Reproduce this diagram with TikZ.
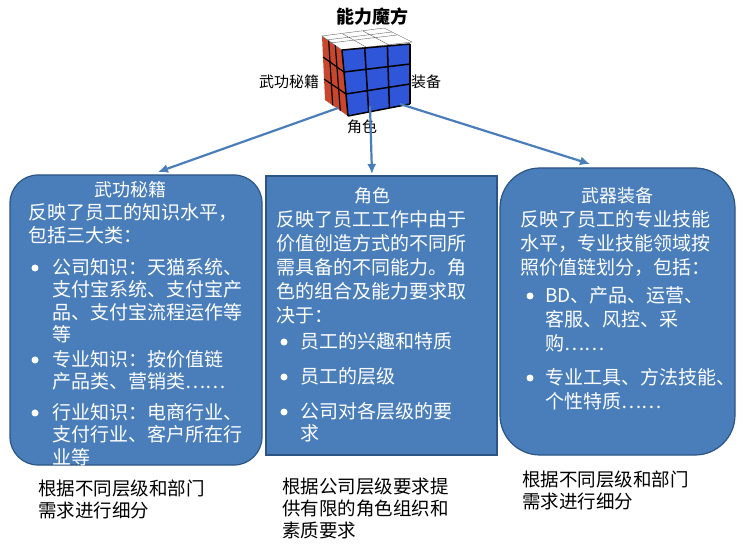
\documentclass[tikz,border=0pt]{standalone}
\usepackage{fontspec}
\setmainfont{Noto Sans CJK SC}
\usetikzlibrary{arrows.meta}
\definecolor{boxblue}{HTML}{4A7EBB}
\definecolor{boxline}{HTML}{2C5484}
\definecolor{cubered}{HTML}{C8452E}
\definecolor{cubeblue}{HTML}{2F55D8}
\begin{document}
\begin{tikzpicture}[
    x=1pt,y=-1pt,
    bluebox/.style={fill=boxblue,draw=boxline,line width=1.2pt},
    txt/.style={anchor=north west,align=left,inner sep=0pt,text=white,font=\fontsize{19}{22.5}\selectfont},
    head/.style={inner sep=0pt,text=white,font=\fontsize{18}{20}\selectfont},
    dot/.style={circle,fill=white,inner sep=0pt,minimum size=7pt},
    note/.style={anchor=north west,align=left,inner sep=0pt,font=\fontsize{18.5}{22}\selectfont},
    lbl/.style={font=\fontsize{15}{18}\selectfont},
    myarrow/.style={-{Latex[length=10pt,width=9pt]},draw=boxblue,line width=2.2pt}
  ]
  \useasboundingbox (0,0) rectangle (748,548);

  % the cube
  \fill[cubered] (322,36) -- (342,50) -- (348,116) -- (325,100) -- cycle;
  \fill[white,draw=black!60] (322,36) -- (384,28) -- (412,42) -- (342,50) -- cycle;
  \fill[cubeblue] (342,50) -- (410,44) -- (410,104) -- (348,116) -- cycle;
  \foreach \t in {0,1,2,3}{
    \draw[black,line width=1.5pt] (342+\t*22.7,50-\t*2) -- (348+\t*20.7,116-\t*4);
    \draw[black,line width=1.5pt] (342+\t*2,50+\t*22) -- (410,44+\t*20);
  }
  \draw[black,line width=1.2pt] (328.7,40.7) -- (332.7,105.3);
  \draw[black,line width=1.2pt] (335.3,45.3) -- (340.3,110.7);
  \draw[black,line width=1.2pt] (323,57) -- (344,72) (324,79) -- (346,94);
  \draw[black!60] (343,34) -- (366,47) (363,31) -- (389,45) (330,43) -- (397,35) (326,40) -- (392,32);
  \coordinate (cubeL) at (338,108);
  \coordinate (cubeM) at (370,106);
  \coordinate (cubeR) at (400,104);

  \node[font=\fontsize{18}{20}\selectfont\bfseries] (title) at (372,17) {能力魔方};
  \node[lbl] (lblwg) at (289,82) {武功秘籍};
  \node[lbl] (lblzb) at (426,82) {装备};
  \node[lbl] (lbljs) at (362,127) {角色};

  % boxes
  \draw[bluebox,rounded corners=28pt] (10,175) rectangle (262,465);
  \draw[bluebox] (266,176) rectangle (497,455);
  \draw[bluebox,rounded corners=40pt] (500,168) rectangle (735,455);
  \coordinate (leftTop) at (158,172);
  \coordinate (midTop) at (372,174);
  \coordinate (rightTop) at (590,164);

  \draw[myarrow] (cubeL) -- (leftTop);
  \draw[myarrow] (cubeM) -- (midTop);
  \draw[myarrow] (cubeR) -- (rightTop);

  % left box
  \node[head] (wgHead) at (130,190) {武功秘籍};
  \node[txt,font=\fontsize{19}{23}\selectfont] (wgIntro) at (28,203) {反映了员工的知识水平，\\包括三大类：};
  \node[dot] at (35,268) {};
  \node[txt] (wgA) at (52,258) {公司知识：天猫系统、\\支付宝系统、支付宝产\\品、支付宝流程运作等\\等};
  \node[dot] at (35,360) {};
  \node[txt] (wgB) at (52,350) {专业知识：按价值链\\产品类、营销类……};
  \node[dot] at (35,413) {};
  \node[txt] (wgC) at (52,403) {行业知识：电商行业、\\支付行业、客户所在行\\业等};

  % middle box
  \node[head] (jsHead) at (372,196) {角色};
  \node[txt,font=\fontsize{19}{24}\selectfont] (jsIntro) at (276,210) {反映了员工工作中由于\\价值创造方式的不同所\\需具备的不同能力。角\\色的组合及能力要求取\\决于：};
  \node[dot] at (284,342) {};
  \node[txt] (jsA) at (300,332) {员工的兴趣和特质};
  \node[dot] at (284,377) {};
  \node[txt] (jsB) at (300,367) {员工的层级};
  \node[dot] at (284,412) {};
  \node[txt] (jsC) at (300,402) {公司对各层级的要\\求};

  % right box
  \node[head] (zbHead) at (617,196) {武器装备};
  \node[txt,font=\fontsize{19}{24}\selectfont] (zbIntro) at (520,210) {反映了员工的专业技能\\水平，专业技能领域按\\照价值链划分，包括：};
  \node[dot] at (530,296) {};
  \node[txt,font=\fontsize{19}{24}\selectfont] (zbA) at (545,286) {BD、产品、运营、\\客服、风控、采\\购……};
  \node[dot] at (530,378) {};
  \node[txt,font=\fontsize{19}{24}\selectfont] (zbB) at (545,368) {专业工具、方法技能、\\个性特质……};

  % notes below
  \node[note] (noteL) at (38,480) {根据不同层级和部门\\需求进行细分};
  \node[note] (noteM) at (282,478) {根据公司层级要求提\\供有限的角色组织和\\素质要求};
  \node[note] (noteR) at (522,471) {根据不同层级和部门\\需求进行细分};
\end{tikzpicture}
\end{document}
